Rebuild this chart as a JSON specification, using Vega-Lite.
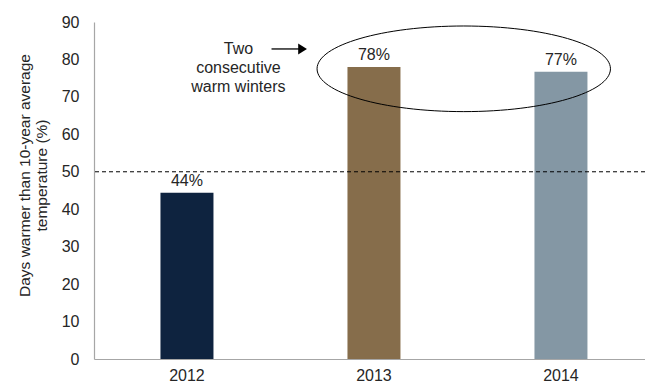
{
  "$schema": "https://vega.github.io/schema/vega-lite/v6.json",
  "width": 551,
  "height": 337,
  "autosize": {"type": "none"},
  "padding": {"left": 94, "top": 22, "right": 0, "bottom": 23},
  "config": {"view": {"stroke": null}, "font": "Liberation Sans"},
  "datasets": {
    "bars": [
      {"year": "2012", "value": 44.4, "label": "44%"},
      {"year": "2013", "value": 78.0, "label": "78%"},
      {"year": "2014", "value": 76.7, "label": "77%"}
    ],
    "reference": [{"value": 50}],
    "ellipse": [{"pos": 2013.48, "value": 77.5}],
    "arrow": [{"pos": 2012.452, "pos2": 2012.6, "value": 82.8}],
    "arrowhead": [{"pos": 2012.618, "value": 82.8}],
    "note": [{"pos": 2012.275, "value": 81.4, "note": "Two\nconsecutive\nwarm winters"}]
  },
  "encoding": {
    "y": {
      "field": "value",
      "type": "quantitative",
      "scale": {"domain": [0, 90], "nice": false},
      "axis": {
        "values": [0, 10, 20, 30, 40, 50, 60, 70, 80, 90],
        "title": ["Days warmer than 10-year average", "temperature (%)"],
        "titleFontSize": 15.5,
        "titleFontWeight": "normal",
        "titleColor": "#262626",
        "titleLineHeight": 17,
        "titleAngle": 270,
        "titleBaseline": "bottom",
        "titleAlign": "center",
        "titleX": -61.5,
        "titleY": 153,
        "labelFontSize": 16,
        "labelColor": "#262626",
        "labelPadding": 15,
        "ticks": false,
        "tickSize": 0,
        "grid": false,
        "domainColor": "#A6A6A6",
        "domainWidth": 1.2
      }
    }
  },
  "layer": [
    {
      "data": {"name": "bars"},
      "encoding": {
        "x": {
          "field": "year",
          "type": "nominal",
          "scale": {"paddingInner": 0.7166, "paddingOuter": 0.3316, "align": 0.536},
          "axis": {
            "title": null,
            "labelAngle": 0,
            "labelFontSize": 16,
            "labelColor": "#262626",
            "labelPadding": 8,
            "ticks": false,
            "tickSize": 0,
            "domainColor": "#A6A6A6",
            "domainWidth": 1.2
          }
        }
      },
      "layer": [
        {
          "mark": {"type": "bar"},
          "encoding": {
            "color": {
              "field": "year",
              "type": "nominal",
              "scale": {"domain": ["2012", "2013", "2014"], "range": ["#0E233F", "#866D4B", "#8497A4"]},
              "legend": null
            }
          }
        },
        {
          "mark": {"type": "text", "baseline": "alphabetic", "dy": -7, "fontSize": 16, "color": "#262626"},
          "encoding": {"text": {"field": "label"}}
        }
      ]
    },
    {
      "data": {"name": "reference"},
      "mark": {"type": "rule", "strokeDash": [4, 3], "color": "#000000", "strokeWidth": 1},
      "encoding": {}
    },
    {
      "encoding": {
        "x": {"field": "pos", "type": "quantitative", "scale": {"domain": [2011.5027, 2014.4492], "nice": false, "zero": false}, "axis": null}
      },
      "layer": [
        {
          "data": {"name": "ellipse"},
          "mark": {
            "type": "point",
            "filled": false,
            "stroke": "#000000",
            "strokeWidth": 1,
            "opacity": 1,
            "size": 86084,
            "shape": "M -1 0 C -1 -0.1612 -0.5523 -0.2918 0 -0.2918 C 0.5523 -0.2918 1 -0.1612 1 0 C 1 0.1612 0.5523 0.2918 0 0.2918 C -0.5523 0.2918 -1 0.1612 -1 0 Z"
          }
        },
        {
          "data": {"name": "arrow"},
          "mark": {"type": "rule", "color": "#000000", "strokeWidth": 1.3},
          "encoding": {"x2": {"field": "pos2"}}
        },
        {
          "data": {"name": "arrowhead"},
          "mark": {
            "type": "point",
            "filled": true,
            "color": "#000000",
            "opacity": 1,
            "size": 121,
            "shape": "M -0.8 -1 L 0.8 0 L -0.8 1 Z"
          }
        },
        {
          "data": {"name": "note"},
          "mark": {"type": "text", "baseline": "alphabetic", "align": "center", "fontSize": 16, "lineHeight": 19, "lineBreak": "\n", "color": "#262626"},
          "encoding": {"text": {"field": "note"}}
        }
      ]
    }
  ],
  "resolve": {"scale": {"x": "independent"}}
}
